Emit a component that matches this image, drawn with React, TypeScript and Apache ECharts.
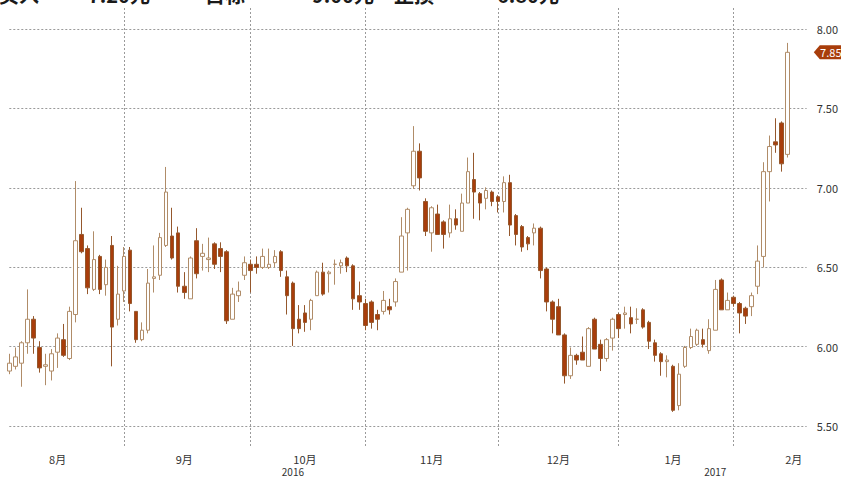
import React, { useEffect, useRef } from "react";
import * as echarts from "echarts";

// Daily OHLC (130 sessions)
const opens = [
  5.82, 5.85, 5.87, 6.0, 6.15, 5.97, 5.85, 5.82, 5.94, 6.02,
  5.9, 6.18, 6.69, 6.6, 6.34, 6.55, 6.37, 6.62, 6.15, 6.33,
  6.59, 6.2, 6.02, 6.08, 6.41, 6.43, 6.62, 6.68, 6.7, 6.36,
  6.28, 6.65, 6.55, 6.53, 6.63, 6.6, 6.58, 6.15, 6.3, 6.43,
  6.5, 6.5, 6.48, 6.48, 6.51, 6.58, 6.42, 6.38, 6.15, 6.19,
  6.15, 6.3, 6.45, 6.44, 6.5, 6.49, 6.54, 6.49, 6.3, 6.25,
  6.26, 6.18, 6.2, 6.23, 6.26, 6.45, 6.7, 7.0, 7.22, 6.9,
  6.7, 6.82, 6.77, 6.7, 6.79, 6.71, 6.89, 7.04, 6.95, 6.92,
  6.96, 6.93, 6.9, 7.02, 6.81, 6.74, 6.67, 6.7, 6.73, 6.47,
  6.26, 6.23, 6.05, 5.79, 5.92, 5.94, 5.85, 6.15, 5.99, 5.9,
  6.03, 6.18, 6.18, 6.16, 6.15, 6.21, 6.13, 6.0, 5.93, 5.88,
  5.85, 5.6, 5.85, 5.97, 5.99, 6.02, 5.95, 6.08, 6.4, 6.21,
  6.29, 6.25, 6.22, 6.23, 6.36, 6.55, 7.09, 7.28, 7.4, 7.2,
];
const closes = [
  5.87, 5.91, 6.0, 6.15, 6.03, 5.84, 5.86, 5.93, 6.03, 5.92,
  6.2, 6.65, 6.58, 6.35, 6.53, 6.34, 6.48, 6.1, 6.31, 6.55,
  6.25, 6.02, 6.08, 6.38, 6.42, 6.67, 6.96, 6.54, 6.36, 6.32,
  6.54, 6.44, 6.57, 6.54, 6.5, 6.55, 6.14, 6.31, 6.33, 6.51,
  6.46, 6.48, 6.55, 6.5, 6.55, 6.46, 6.3, 6.09, 6.09, 6.13,
  6.27, 6.45, 6.31, 6.45, 6.5, 6.51, 6.49, 6.28, 6.26, 6.11,
  6.13, 6.15, 6.27, 6.21, 6.39, 6.68, 6.85, 7.22, 7.05, 6.71,
  6.86, 6.69, 6.69, 6.79, 6.75, 6.89, 7.09, 6.96, 6.89, 6.97,
  6.9, 6.9, 7.02, 6.75, 6.69, 6.61, 6.63, 6.73, 6.46, 6.26,
  6.15, 6.05, 5.79, 5.92, 5.89, 5.89, 6.09, 5.96, 5.9, 6.02,
  6.15, 6.09, 6.19, 6.12, 6.15, 6.1, 6.01, 5.92, 5.88, 5.89,
  5.57, 5.8, 5.97, 6.04, 6.08, 5.99, 6.09, 6.34, 6.21, 6.27,
  6.25, 6.19, 6.17, 6.3, 6.52, 7.09, 7.25, 7.26, 7.14, 7.85,
];
const lows = [
  5.8, 5.83, 5.72, 5.93, 5.93, 5.81, 5.73, 5.76, 5.84, 5.91,
  5.89, 6.13, 6.57, 6.31, 6.33, 6.31, 6.3, 5.85, 6.11, 6.26,
  6.2, 6.0, 6.01, 6.06, 6.32, 6.4, 6.61, 6.53, 6.32, 6.28,
  6.28, 6.41, 6.46, 6.45, 6.47, 6.45, 6.12, 6.15, 6.26, 6.4,
  6.32, 6.44, 6.47, 6.47, 6.48, 6.42, 6.18, 5.98, 6.06, 6.07,
  6.08, 6.3, 6.3, 6.32, 6.37, 6.44, 6.45, 6.21, 6.21, 6.08,
  6.09, 6.08, 6.18, 6.18, 6.23, 6.45, 6.46, 6.98, 6.97, 6.68,
  6.58, 6.69, 6.6, 6.67, 6.72, 6.71, 6.89, 6.79, 6.78, 6.85,
  6.87, 6.83, 6.83, 6.68, 6.62, 6.58, 6.59, 6.62, 6.41, 6.2,
  6.06, 6.05, 5.74, 5.77, 5.86, 5.89, 5.85, 5.96, 5.82, 5.88,
  5.95, 6.03, 6.09, 6.06, 6.12, 6.09, 5.96, 5.88, 5.79, 5.78,
  5.56, 5.57, 5.84, 5.96, 5.98, 5.97, 5.93, 6.08, 6.21, 6.21,
  6.23, 6.06, 6.12, 6.17, 6.31, 6.48, 6.9, 7.21, 7.09, 7.18,
];
const highs = [
  5.93, 5.97, 6.01, 6.34, 6.17, 6.01, 5.93, 5.96, 6.06, 6.12,
  6.23, 7.03, 6.86, 6.62, 6.71, 6.56, 6.53, 6.68, 6.49, 6.61,
  6.61, 6.2, 6.13, 6.47, 6.62, 6.7, 7.12, 6.86, 6.74, 6.45,
  6.55, 6.73, 6.63, 6.67, 6.64, 6.64, 6.59, 6.35, 6.39, 6.55,
  6.53, 6.55, 6.6, 6.6, 6.59, 6.59, 6.46, 6.39, 6.24, 6.24,
  6.28, 6.46, 6.51, 6.46, 6.53, 6.53, 6.55, 6.5, 6.39, 6.28,
  6.27, 6.21, 6.33, 6.28, 6.41, 6.8, 6.86, 7.38, 7.27, 6.92,
  6.87, 6.88, 6.78, 6.88, 6.85, 6.95, 7.18, 7.21, 6.96, 6.99,
  6.97, 6.94, 7.06, 7.07, 6.82, 6.75, 6.68, 6.76, 6.74, 6.48,
  6.27, 6.28, 6.06, 5.97, 5.93, 6.04, 6.1, 6.16, 6.02, 6.03,
  6.16, 6.19, 6.23, 6.23, 6.22, 6.22, 6.14, 6.02, 5.94, 5.92,
  5.86, 5.87, 5.98, 6.09, 6.09, 6.09, 6.15, 6.4, 6.41, 6.32,
  6.3, 6.26, 6.23, 6.32, 6.62, 7.15, 7.32, 7.43, 7.41, 7.91,
];

// Session slots on the category axis (130 sessions + 4 empty slots at the right)
const slotCount = 134;
const categories = Array.from({ length: slotCount }, (_, i) => String(i));

const monthLabels = ["8月", "9月", "10月", "11月", "12月", "1月", "2月"];
const monthLabelAt = [8, 29, 49, 70, 91, 110, 130];
const monthStartAt = [19, 40, 59, 81, 101, 120];
const yearLabels = ["2016", "2017"];
const yearLabelAt = [47, 117];

const yTickMin = 5.5;
const yTickMax = 8.0;
const yTickStep = 0.5;

// Headline pieces (only their lower part is visible in the reference)
const headlineParts = ["买入", "7.20元", "目标", "9.00元", "止损", "6.80元"];

export default function App() {
  const ref = useRef<HTMLDivElement>(null);

  useEffect(() => {
    if (!ref.current) return;
    const chart = echarts.init(ref.current, null, { renderer: "svg" });
    const data = opens.map((o, i) => [o, closes[i], lows[i], highs[i]]);
    const lastClose = closes[closes.length - 1];

    const font = "'Noto Sans CJK SC', 'Noto Sans', sans-serif";
    const gridLine = { type: [2, 2] as any, color: "#9a9a9a", width: 1 };

    const L = 9.3;
    const R = 29.2;
    const pxPerUnit = 158.7;
    const outerTop = 8;
    const outerBottom = 24;
    const innerTop = 29;
    const innerBottom = 51;
    const outerMax = yTickMax + (innerTop - outerTop) / pxPerUnit;
    const outerMin = yTickMin - (innerBottom - outerBottom) / pxPerUnit;

    const headlineLeft = [-1, 88, 205, 312, 394, 497];

    chart.setOption({
      animation: false,
      backgroundColor: "#ffffff",
      textStyle: { fontFamily: font },
      title: headlineParts.map((t, i) => ({
        text: t,
        left: headlineLeft[i],
        top: -16,
        padding: 0,
        textStyle: {
          fontSize: 20,
          fontWeight: "bold",
          color: "#1a1a1a",
          fontFamily: font,
        },
      })),
      grid: [
        { left: L, right: R, top: outerTop, bottom: outerBottom },
        { left: L, right: R, top: innerTop, bottom: innerBottom },
      ],
      xAxis: [
        {
          type: "category",
          gridIndex: 0,
          data: categories,
          boundaryGap: false,
          axisLine: { show: false },
          axisTick: { show: false },
          splitLine: {
            show: true,
            interval: (i: number) => monthStartAt.includes(i),
            lineStyle: gridLine,
          },
          axisLabel: {
            interval: (i: number) => monthLabelAt.includes(i),
            formatter: (_v: string, i: number) => {
              const k = monthLabelAt.indexOf(i);
              return k >= 0 ? monthLabels[k] : "";
            },
            margin: 5,
            fontSize: 11,
            lineHeight: 12,
            color: "#333333",
            fontFamily: font,
          },
        },
        {
          type: "category",
          gridIndex: 0,
          data: categories,
          boundaryGap: false,
          position: "bottom",
          axisLine: { show: false },
          axisTick: { show: false },
          splitLine: { show: false },
          axisLabel: {
            interval: (i: number) => yearLabelAt.includes(i),
            formatter: (_v: string, i: number) => {
              const k = yearLabelAt.indexOf(i);
              return k >= 0 ? yearLabels[k] : "";
            },
            margin: 18,
            fontSize: 10,
            lineHeight: 11,
            color: "#333333",
            fontFamily: font,
          },
        },
        { type: "value", gridIndex: 1, show: false },
      ],
      yAxis: [
        {
          type: "value",
          gridIndex: 0,
          min: outerMin,
          max: outerMax,
          show: false,
          splitLine: { show: false },
        },
        {
          type: "value",
          gridIndex: 1,
          min: yTickMin,
          max: yTickMax,
          interval: yTickStep,
          position: "right",
          axisLine: { show: false },
          axisTick: { show: false },
          splitLine: { show: true, lineStyle: gridLine },
          axisLabel: {
            formatter: (v: number) => v.toFixed(2),
            margin: 10,
            fontSize: 11,
            color: "#333333",
            fontFamily: font,
          },
        },
      ],
      series: [
        {
          type: "candlestick",
          xAxisIndex: 0,
          yAxisIndex: 0,
          data,
          barWidth: 4,
          clip: false,
          itemStyle: {
            color: "#ffffff",
            color0: "#a83d0b",
            borderColor: "#b08c68",
            borderColor0: "#95582d",
            borderWidth: 1,
          },
          markPoint: {
            symbol: "path://M0,7 L6,0 L40,0 L40,14 L6,14 Z",
            symbolSize: [40, 14],
            symbolOffset: [22, 0],
            itemStyle: { color: "#a83d0b" },
            label: {
              show: true,
              position: "inside",
              color: "#ffffff",
              fontSize: 11,
              fontFamily: font,
              offset: [-3, 0],
              formatter: () => lastClose.toFixed(2),
            },
            data: [{ coord: [String(slotCount - 1), lastClose], value: lastClose }],
          },
        },
      ],
    });
    return () => chart.dispose();
  }, []);

  return (
    <div
      ref={ref}
      style={{ position: "absolute", left: 0, top: 0, width: 841, height: 477 }}
    />
  );
}
